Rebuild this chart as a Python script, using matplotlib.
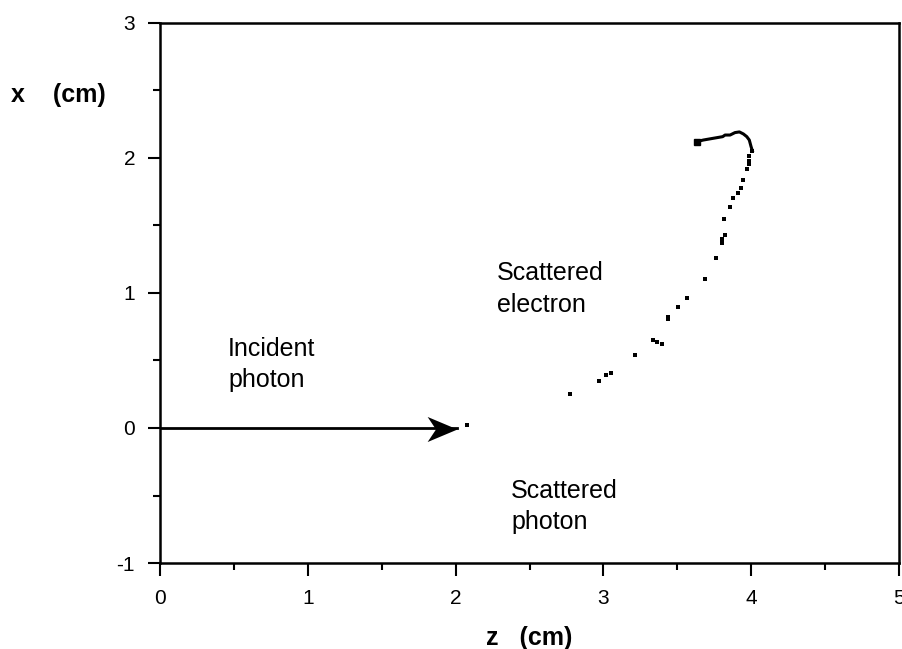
import numpy as np
import matplotlib.pyplot as plt
from matplotlib.path import Path
from matplotlib.ticker import MultipleLocator

plt.rcParams['font.family'] = ['Liberation Sans', 'DejaVu Sans']
plt.rcParams['axes.unicode_minus'] = False

# electron track, sampled points (z, x) in cm
z_dots = [2.774, 2.973, 3.018, 3.049, 3.216, 3.338, 3.36, 3.394, 3.435, 3.438,
          3.503, 3.563, 3.685, 3.762, 3.80, 3.80, 3.82, 3.818, 3.854, 3.874,
          3.913, 3.931, 3.947, 3.970, 3.987, 3.987, 3.987, 4.008]
x_dots = [0.250, 0.348, 0.390, 0.410, 0.543, 0.650, 0.635, 0.620, 0.807, 0.825,
          0.894, 0.965, 1.101, 1.262, 1.37, 1.40, 1.43, 1.548, 1.639, 1.701,
          1.743, 1.780, 1.837, 1.916, 1.953, 1.980, 2.015, 2.052]

# last part of the track, drawn continuous
z_end = [4.008, 3.999, 3.987, 3.970, 3.947, 3.920, 3.890, 3.857, 3.823, 3.807,
         3.744, 3.676, 3.631]
x_end = [2.052, 2.084, 2.133, 2.158, 2.178, 2.193, 2.188, 2.170, 2.170, 2.158,
         2.146, 2.133, 2.121]

# incident photon: start and tip of the arrow, then the point after it
photon_z = [0.0, 2.01]
photon_x = [0.0, -0.01]
photon_dot = (2.08, 0.025)

# notched arrow head, tip at the origin
head = Path([(0, 0), (-1, 0.42), (-0.72, 0), (-1, -0.42), (0, 0)],
            [Path.MOVETO, Path.LINETO, Path.LINETO, Path.LINETO, Path.CLOSEPOLY])

fig = plt.figure(figsize=(9.02, 6.49), dpi=100)
ax = fig.add_axes([0.1774, 0.1325, 0.8193, 0.8321])

ax.plot(z_dots, x_dots, 's', color='k', markersize=3, markeredgewidth=0)
ax.plot(z_end, x_end, '-', color='k', linewidth=2.2)
ax.plot(z_end[-1], x_end[-1], 's', color='k', markersize=4)
ax.plot(*photon_dot, 's', color='k', markersize=3, markeredgewidth=0)

ax.plot(photon_z, [photon_x[0], photon_x[0]], '-', color='k', linewidth=2)
ax.plot(photon_z[1], photon_x[1], marker=head, color='k', markersize=43,
        markeredgewidth=0)

ax.text(0.46, 0.47, 'Incident\nphoton', fontsize=18, linespacing=1.38,
        va='center', ha='left')
ax.text(2.28, 1.03, 'Scattered\nelectron', fontsize=18, linespacing=1.38,
        va='center', ha='left')
ax.text(2.375, -0.58, 'Scattered\nphoton', fontsize=18, linespacing=1.38,
        va='center', ha='left')

ax.set_xlim(0, 5)
ax.set_ylim(-1, 3)
ax.xaxis.set_major_locator(MultipleLocator(1))
ax.xaxis.set_minor_locator(MultipleLocator(0.5))
ax.yaxis.set_major_locator(MultipleLocator(1))
ax.yaxis.set_minor_locator(MultipleLocator(0.5))
ax.tick_params(which='major', direction='out', length=9, width=1.5, labelsize=15)
ax.tick_params(axis='x', which='major', pad=10)
ax.tick_params(axis='y', which='major', pad=9)
ax.tick_params(which='minor', direction='out', length=5, width=1.5)
for s in ax.spines.values():
    s.set_linewidth(1.8)

ax.set_xlabel('z   (cm)', fontsize=18, fontweight='bold')
ax.xaxis.set_label_coords(0.5, 1 - (638 - 23) / 540)
ax.xaxis.label.set_va('center')
fig.text(58 / 902, 1 - 95 / 649, 'x    (cm)', fontsize=18, fontweight='bold',
         ha='center', va='center')

fig.savefig('out.png', dpi=100)
